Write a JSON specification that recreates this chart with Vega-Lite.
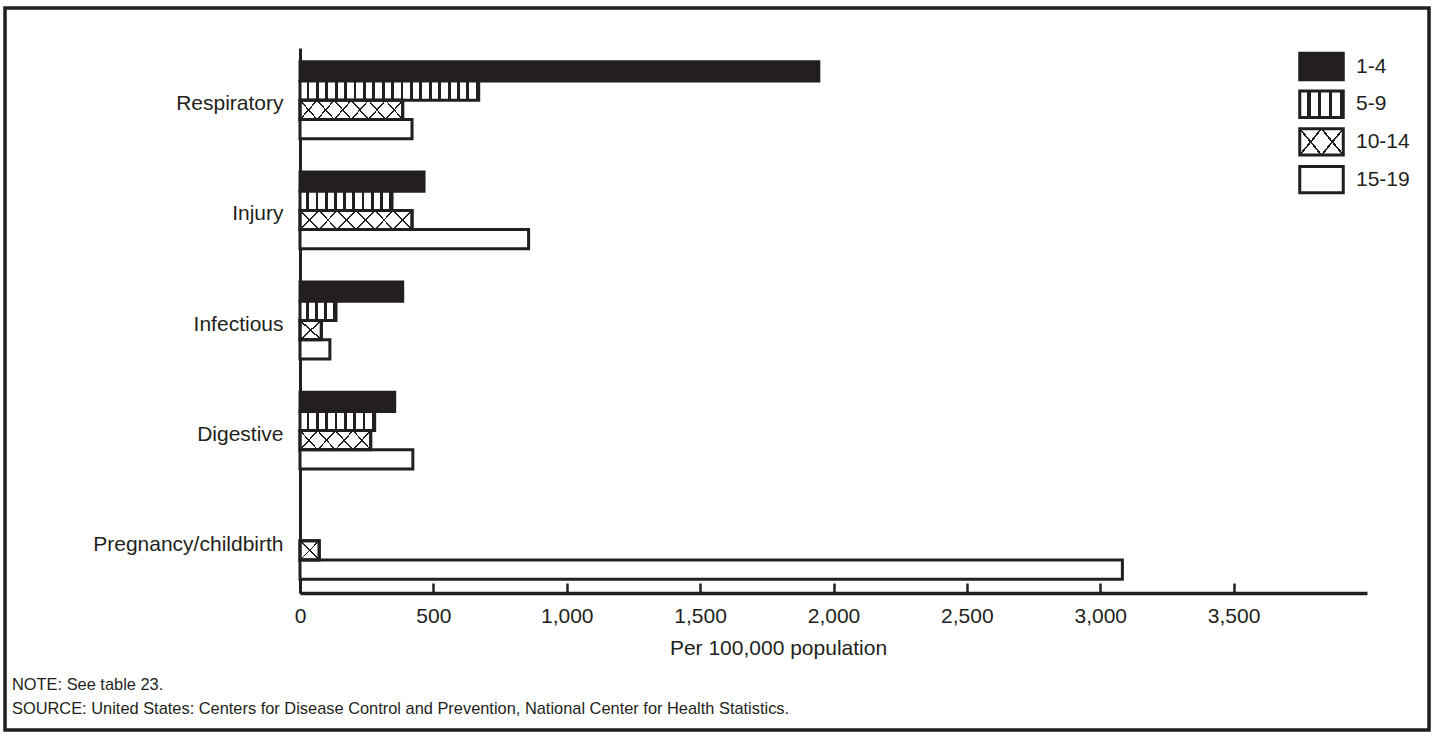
{
  "$schema": "https://vega.github.io/schema/vega-lite/v6.json",
  "width": 1424,
  "height": 722,
  "autosize": {"type": "none"},
  "padding": {"left": 5, "top": 8, "right": 6, "bottom": 6},
  "background": "white",
  "config": {
    "view": {"stroke": "#231f20", "strokeWidth": 3.5},
    "font": "Liberation Sans"
  },
  "title": {
    "text": ["NOTE: See table 23.", "SOURCE: United States: Centers for Disease Control and Prevention, National Center for Health Statistics."],
    "orient": "bottom",
    "anchor": "start",
    "frame": "group",
    "offset": -53,
    "dx": 7,
    "fontSize": 16.4,
    "fontWeight": "normal",
    "font": "Liberation Sans",
    "color": "#231f20",
    "lineHeight": 24
  },
  "data": {
    "values": [
      {"cause": "Respiratory", "age": "1-4", "value": 1945},
      {"cause": "Respiratory", "age": "5-9", "value": 670},
      {"cause": "Respiratory", "age": "10-14", "value": 385},
      {"cause": "Respiratory", "age": "15-19", "value": 420},
      {"cause": "Injury", "age": "1-4", "value": 465},
      {"cause": "Injury", "age": "5-9", "value": 345},
      {"cause": "Injury", "age": "10-14", "value": 420},
      {"cause": "Injury", "age": "15-19", "value": 857},
      {"cause": "Infectious", "age": "1-4", "value": 385},
      {"cause": "Infectious", "age": "5-9", "value": 135},
      {"cause": "Infectious", "age": "10-14", "value": 80},
      {"cause": "Infectious", "age": "15-19", "value": 112},
      {"cause": "Digestive", "age": "1-4", "value": 355},
      {"cause": "Digestive", "age": "5-9", "value": 280},
      {"cause": "Digestive", "age": "10-14", "value": 265},
      {"cause": "Digestive", "age": "15-19", "value": 423},
      {"cause": "Pregnancy/childbirth", "age": "10-14", "value": 72},
      {"cause": "Pregnancy/childbirth", "age": "15-19", "value": 3083}
    ]
  },
  "encoding": {
    "x": {
      "field": "value",
      "type": "quantitative",
      "scale": {"domain": [0, 4000], "range": [295, 1362], "nice": false, "zero": true},
      "axis": {
        "values": [0, 500, 1000, 1500, 2000, 2500, 3000, 3500],
        "format": ",d",
        "offset": -137,
        "grid": false,
        "domainColor": "#231f20",
        "domainWidth": 3.5,
        "tickColor": "#231f20",
        "tickWidth": 2.5,
        "tickSize": -10,
        "labelFont": "Liberation Sans",
        "labelFontSize": 21,
        "labelColor": "#231f20",
        "labelPadding": 22,
        "labelFlush": false,
        "labelOverlap": false,
        "title": "Per 100,000 population",
        "titleFont": "Liberation Sans",
        "titleFontSize": 21,
        "titleFontWeight": "normal",
        "titleColor": "#231f20",
        "titleX": 773,
        "titleY": 55,
        "titleBaseline": "middle",
        "titleAlign": "center"
      }
    },
    "y": {
      "field": "cause",
      "type": "nominal",
      "scale": {
        "domain": ["Respiratory", "Injury", "Infectious", "Digestive", "Pregnancy/childbirth"],
        "range": [40, 585],
        "paddingInner": 0.301,
        "paddingOuter": 0.125
      },
      "axis": {
        "offset": -295,
        "grid": false,
        "ticks": false,
        "domainColor": "#231f20",
        "domainWidth": 3,
        "labelFont": "Liberation Sans",
        "labelFontSize": 21,
        "labelColor": "#231f20",
        "labelPadding": 17,
        "labelOffset": 4,
        "labelLimit": 400,
        "title": null
      }
    },
    "yOffset": {
      "field": "age",
      "type": "nominal",
      "scale": {"domain": ["1-4", "5-9", "10-14", "15-19"], "paddingInner": 0, "paddingOuter": 0}
    }
  },
  "layer": [
    {
      "mark": {"type": "bar", "stroke": "#231f20", "strokeWidth": 3},
      "encoding": {
        "fill": {
          "field": "age",
          "type": "nominal",
          "scale": {
            "domain": ["1-4", "5-9", "10-14", "15-19"],
            "range": [
              "#231f20",
              {"expr": "({gradient: 'linear', x1: 0, y1: 0, x2: 1, y2: 0, stops: [{offset: 0, color: 'white'}, {offset: 0.175, color: 'white'}, {offset: 0.175, color: '#231f20'}, {offset: 0.25, color: '#231f20'}, {offset: 0.25, color: 'white'}, {offset: 0.425, color: 'white'}, {offset: 0.425, color: '#231f20'}, {offset: 0.5, color: '#231f20'}, {offset: 0.5, color: 'white'}, {offset: 0.675, color: 'white'}, {offset: 0.675, color: '#231f20'}, {offset: 0.75, color: '#231f20'}, {offset: 0.75, color: 'white'}, {offset: 0.925, color: 'white'}, {offset: 0.925, color: '#231f20'}, {offset: 1, color: '#231f20'}]})"},
              {"expr": "({gradient: 'linear', x1: 0, y1: 1, x2: 1.2, y2: 0.4, stops: [{offset: 0, color: 'white'}, {offset: 0.3167, color: 'white'}, {offset: 0.3167, color: '#231f20'}, {offset: 0.35, color: '#231f20'}, {offset: 0.35, color: 'white'}, {offset: 0.65, color: 'white'}, {offset: 0.65, color: '#231f20'}, {offset: 0.6833, color: '#231f20'}, {offset: 0.6833, color: 'white'}, {offset: 1, color: 'white'}]})"},
              "white"
            ]
          },
          "legend": {
            "orient": "none",
            "legendX": 1300,
            "legendY": 42,
            "title": null,
            "padding": 0,
            "symbolType": "M-1.45,-0.88H1.45V0.88H-1.45Z",
            "symbolSize": 900,
            "symbolStrokeWidth": 3,
            "symbolStrokeColor": "#231f20",
            "labelFont": "Liberation Sans",
            "labelFontSize": 21,
            "labelColor": "#231f20",
            "labelOffset": 18,
            "rowPadding": -1.3,
            "encode": {
              "symbols": {
                "update": {
                  "stroke": {"value": "#231f20"},
                  "strokeWidth": {"value": 3}
                }
              }
            }
          },
          "condition": [
            {"test": "datum.age === '5-9' && datum.cause === 'Respiratory'", "value": {"gradient": "linear", "x1": 0, "y1": 0, "x2": 1, "y2": 0, "stops": [
              {"offset": 0, "color": "white"},
              {"offset": 0.0368, "color": "white"}, {"offset": 0.0368, "color": "#231f20"}, {"offset": 0.0526, "color": "#231f20"}, {"offset": 0.0526, "color": "white"},
              {"offset": 0.0895, "color": "white"}, {"offset": 0.0895, "color": "#231f20"}, {"offset": 0.1053, "color": "#231f20"}, {"offset": 0.1053, "color": "white"},
              {"offset": 0.1421, "color": "white"}, {"offset": 0.1421, "color": "#231f20"}, {"offset": 0.1579, "color": "#231f20"}, {"offset": 0.1579, "color": "white"},
              {"offset": 0.1947, "color": "white"}, {"offset": 0.1947, "color": "#231f20"}, {"offset": 0.2105, "color": "#231f20"}, {"offset": 0.2105, "color": "white"},
              {"offset": 0.2474, "color": "white"}, {"offset": 0.2474, "color": "#231f20"}, {"offset": 0.2632, "color": "#231f20"}, {"offset": 0.2632, "color": "white"},
              {"offset": 0.3, "color": "white"}, {"offset": 0.3, "color": "#231f20"}, {"offset": 0.3158, "color": "#231f20"}, {"offset": 0.3158, "color": "white"},
              {"offset": 0.3526, "color": "white"}, {"offset": 0.3526, "color": "#231f20"}, {"offset": 0.3684, "color": "#231f20"}, {"offset": 0.3684, "color": "white"},
              {"offset": 0.4053, "color": "white"}, {"offset": 0.4053, "color": "#231f20"}, {"offset": 0.4211, "color": "#231f20"}, {"offset": 0.4211, "color": "white"},
              {"offset": 0.4579, "color": "white"}, {"offset": 0.4579, "color": "#231f20"}, {"offset": 0.4737, "color": "#231f20"}, {"offset": 0.4737, "color": "white"},
              {"offset": 0.5105, "color": "white"}, {"offset": 0.5105, "color": "#231f20"}, {"offset": 0.5263, "color": "#231f20"}, {"offset": 0.5263, "color": "white"},
              {"offset": 0.5632, "color": "white"}, {"offset": 0.5632, "color": "#231f20"}, {"offset": 0.5789, "color": "#231f20"}, {"offset": 0.5789, "color": "white"},
              {"offset": 0.6158, "color": "white"}, {"offset": 0.6158, "color": "#231f20"}, {"offset": 0.6316, "color": "#231f20"}, {"offset": 0.6316, "color": "white"},
              {"offset": 0.6684, "color": "white"}, {"offset": 0.6684, "color": "#231f20"}, {"offset": 0.6842, "color": "#231f20"}, {"offset": 0.6842, "color": "white"},
              {"offset": 0.7211, "color": "white"}, {"offset": 0.7211, "color": "#231f20"}, {"offset": 0.7368, "color": "#231f20"}, {"offset": 0.7368, "color": "white"},
              {"offset": 0.7737, "color": "white"}, {"offset": 0.7737, "color": "#231f20"}, {"offset": 0.7895, "color": "#231f20"}, {"offset": 0.7895, "color": "white"},
              {"offset": 0.8263, "color": "white"}, {"offset": 0.8263, "color": "#231f20"}, {"offset": 0.8421, "color": "#231f20"}, {"offset": 0.8421, "color": "white"},
              {"offset": 0.8789, "color": "white"}, {"offset": 0.8789, "color": "#231f20"}, {"offset": 0.8947, "color": "#231f20"}, {"offset": 0.8947, "color": "white"},
              {"offset": 0.9316, "color": "white"}, {"offset": 0.9316, "color": "#231f20"}, {"offset": 0.9474, "color": "#231f20"}, {"offset": 0.9474, "color": "white"},
              {"offset": 0.9842, "color": "white"}, {"offset": 0.9842, "color": "#231f20"}, {"offset": 1, "color": "#231f20"}
            ]}},
            {"test": "datum.age === '5-9' && datum.cause === 'Injury'", "value": {"gradient": "linear", "x1": 0, "y1": 0, "x2": 1, "y2": 0, "stops": [
              {"offset": 0, "color": "white"},
              {"offset": 0.07, "color": "white"}, {"offset": 0.07, "color": "#231f20"}, {"offset": 0.1, "color": "#231f20"}, {"offset": 0.1, "color": "white"},
              {"offset": 0.17, "color": "white"}, {"offset": 0.17, "color": "#231f20"}, {"offset": 0.2, "color": "#231f20"}, {"offset": 0.2, "color": "white"},
              {"offset": 0.27, "color": "white"}, {"offset": 0.27, "color": "#231f20"}, {"offset": 0.3, "color": "#231f20"}, {"offset": 0.3, "color": "white"},
              {"offset": 0.37, "color": "white"}, {"offset": 0.37, "color": "#231f20"}, {"offset": 0.4, "color": "#231f20"}, {"offset": 0.4, "color": "white"},
              {"offset": 0.47, "color": "white"}, {"offset": 0.47, "color": "#231f20"}, {"offset": 0.5, "color": "#231f20"}, {"offset": 0.5, "color": "white"},
              {"offset": 0.57, "color": "white"}, {"offset": 0.57, "color": "#231f20"}, {"offset": 0.6, "color": "#231f20"}, {"offset": 0.6, "color": "white"},
              {"offset": 0.67, "color": "white"}, {"offset": 0.67, "color": "#231f20"}, {"offset": 0.7, "color": "#231f20"}, {"offset": 0.7, "color": "white"},
              {"offset": 0.77, "color": "white"}, {"offset": 0.77, "color": "#231f20"}, {"offset": 0.8, "color": "#231f20"}, {"offset": 0.8, "color": "white"},
              {"offset": 0.87, "color": "white"}, {"offset": 0.87, "color": "#231f20"}, {"offset": 0.9, "color": "#231f20"}, {"offset": 0.9, "color": "white"},
              {"offset": 0.97, "color": "white"}, {"offset": 0.97, "color": "#231f20"}, {"offset": 1, "color": "#231f20"}
            ]}},
            {"test": "datum.age === '5-9' && datum.cause === 'Infectious'", "value": {"gradient": "linear", "x1": 0, "y1": 0, "x2": 1, "y2": 0, "stops": [
              {"offset": 0, "color": "white"},
              {"offset": 0.175, "color": "white"}, {"offset": 0.175, "color": "#231f20"}, {"offset": 0.25, "color": "#231f20"}, {"offset": 0.25, "color": "white"},
              {"offset": 0.425, "color": "white"}, {"offset": 0.425, "color": "#231f20"}, {"offset": 0.5, "color": "#231f20"}, {"offset": 0.5, "color": "white"},
              {"offset": 0.675, "color": "white"}, {"offset": 0.675, "color": "#231f20"}, {"offset": 0.75, "color": "#231f20"}, {"offset": 0.75, "color": "white"},
              {"offset": 0.925, "color": "white"}, {"offset": 0.925, "color": "#231f20"}, {"offset": 1, "color": "#231f20"}
            ]}},
            {"test": "datum.age === '5-9' && datum.cause === 'Digestive'", "value": {"gradient": "linear", "x1": 0, "y1": 0, "x2": 1, "y2": 0, "stops": [
              {"offset": 0, "color": "white"},
              {"offset": 0.0875, "color": "white"}, {"offset": 0.0875, "color": "#231f20"}, {"offset": 0.125, "color": "#231f20"}, {"offset": 0.125, "color": "white"},
              {"offset": 0.2125, "color": "white"}, {"offset": 0.2125, "color": "#231f20"}, {"offset": 0.25, "color": "#231f20"}, {"offset": 0.25, "color": "white"},
              {"offset": 0.3375, "color": "white"}, {"offset": 0.3375, "color": "#231f20"}, {"offset": 0.375, "color": "#231f20"}, {"offset": 0.375, "color": "white"},
              {"offset": 0.4625, "color": "white"}, {"offset": 0.4625, "color": "#231f20"}, {"offset": 0.5, "color": "#231f20"}, {"offset": 0.5, "color": "white"},
              {"offset": 0.5875, "color": "white"}, {"offset": 0.5875, "color": "#231f20"}, {"offset": 0.625, "color": "#231f20"}, {"offset": 0.625, "color": "white"},
              {"offset": 0.7125, "color": "white"}, {"offset": 0.7125, "color": "#231f20"}, {"offset": 0.75, "color": "#231f20"}, {"offset": 0.75, "color": "white"},
              {"offset": 0.8375, "color": "white"}, {"offset": 0.8375, "color": "#231f20"}, {"offset": 0.875, "color": "#231f20"}, {"offset": 0.875, "color": "white"},
              {"offset": 0.9625, "color": "white"}, {"offset": 0.9625, "color": "#231f20"}, {"offset": 1, "color": "#231f20"}
            ]}},
            {"test": "datum.age === '10-14' && (datum.cause === 'Respiratory' || datum.cause === 'Injury')", "value": {"gradient": "linear", "x1": 0, "y1": 1, "x2": 1.1351, "y2": 0.8108, "stops": [
              {"offset": 0, "color": "white"},
              {"offset": 0.1357, "color": "white"}, {"offset": 0.1357, "color": "#231f20"}, {"offset": 0.15, "color": "#231f20"}, {"offset": 0.15, "color": "white"},
              {"offset": 0.2786, "color": "white"}, {"offset": 0.2786, "color": "#231f20"}, {"offset": 0.2929, "color": "#231f20"}, {"offset": 0.2929, "color": "white"},
              {"offset": 0.4214, "color": "white"}, {"offset": 0.4214, "color": "#231f20"}, {"offset": 0.4357, "color": "#231f20"}, {"offset": 0.4357, "color": "white"},
              {"offset": 0.5643, "color": "white"}, {"offset": 0.5643, "color": "#231f20"}, {"offset": 0.5786, "color": "#231f20"}, {"offset": 0.5786, "color": "white"},
              {"offset": 0.7071, "color": "white"}, {"offset": 0.7071, "color": "#231f20"}, {"offset": 0.7214, "color": "#231f20"}, {"offset": 0.7214, "color": "white"},
              {"offset": 0.85, "color": "white"}, {"offset": 0.85, "color": "#231f20"}, {"offset": 0.8643, "color": "#231f20"}, {"offset": 0.8643, "color": "white"},
              {"offset": 1, "color": "white"}
            ]}},
            {"test": "datum.age === '10-14' && datum.cause === 'Digestive'", "value": {"gradient": "linear", "x1": 0, "y1": 1, "x2": 1.1765, "y2": 0.7059, "stops": [
              {"offset": 0, "color": "white"},
              {"offset": 0.19, "color": "white"}, {"offset": 0.19, "color": "#231f20"}, {"offset": 0.21, "color": "#231f20"}, {"offset": 0.21, "color": "white"},
              {"offset": 0.39, "color": "white"}, {"offset": 0.39, "color": "#231f20"}, {"offset": 0.41, "color": "#231f20"}, {"offset": 0.41, "color": "white"},
              {"offset": 0.59, "color": "white"}, {"offset": 0.59, "color": "#231f20"}, {"offset": 0.61, "color": "#231f20"}, {"offset": 0.61, "color": "white"},
              {"offset": 0.79, "color": "white"}, {"offset": 0.79, "color": "#231f20"}, {"offset": 0.81, "color": "#231f20"}, {"offset": 0.81, "color": "white"},
              {"offset": 1, "color": "white"}
            ]}},
            {"test": "datum.age === '10-14' && (datum.cause === 'Infectious' || datum.cause === 'Pregnancy/childbirth')", "value": {"gradient": "linear", "x1": 0, "y1": 1, "x2": 1, "y2": 0, "stops": [
              {"offset": 0, "color": "white"},
              {"offset": 0.475, "color": "white"}, {"offset": 0.475, "color": "#231f20"}, {"offset": 0.525, "color": "#231f20"}, {"offset": 0.525, "color": "white"},
              {"offset": 1, "color": "white"}
            ]}}
          ]
        }
      }
    },
    {
      "transform": [{"filter": "datum.age === '10-14'"}],
      "mark": {"type": "bar", "stroke": "#231f20", "strokeWidth": 3},
      "encoding": {
        "fill": {
          "field": "age",
          "type": "nominal",
          "scale": {
            "domain": ["1-4", "5-9", "10-14", "15-19"],
            "range": [
              "rgba(255,255,255,0)",
              "rgba(255,255,255,0)",
              {"expr": "({gradient: 'linear', x1: 0, y1: 0, x2: 1.2, y2: 0.6, stops: [{offset: 0, color: 'rgba(255,255,255,0)'}, {offset: 0.3167, color: 'rgba(255,255,255,0)'}, {offset: 0.3167, color: '#231f20'}, {offset: 0.35, color: '#231f20'}, {offset: 0.35, color: 'rgba(255,255,255,0)'}, {offset: 0.65, color: 'rgba(255,255,255,0)'}, {offset: 0.65, color: '#231f20'}, {offset: 0.6833, color: '#231f20'}, {offset: 0.6833, color: 'rgba(255,255,255,0)'}, {offset: 1, color: 'rgba(255,255,255,0)'}]})"},
              "rgba(255,255,255,0)"
            ]
          },
          "legend": {
            "orient": "none",
            "legendX": 1300,
            "legendY": 42,
            "title": null,
            "padding": 0,
            "symbolType": "M-1.45,-0.88H1.45V0.88H-1.45Z",
            "symbolSize": 900,
            "symbolStrokeWidth": 3,
            "symbolStrokeColor": "rgba(255,255,255,0)",
            "labelFont": "Liberation Sans",
            "labelFontSize": 21,
            "labelColor": "rgba(255,255,255,0)",
            "labelOffset": 18,
            "rowPadding": -1.3,
            "encode": {
              "symbols": {
                "update": {
                  "stroke": {"value": "rgba(255,255,255,0)"},
                  "strokeWidth": {"value": 3}
                }
              }
            }
          },
          "condition": [
            {"test": "datum.cause === 'Respiratory' || datum.cause === 'Injury'", "value": {"gradient": "linear", "x1": 0, "y1": 0, "x2": 1.1351, "y2": 0.1892, "stops": [
              {"offset": 0, "color": "rgba(255,255,255,0)"},
              {"offset": 0.1357, "color": "rgba(255,255,255,0)"}, {"offset": 0.1357, "color": "#231f20"}, {"offset": 0.15, "color": "#231f20"}, {"offset": 0.15, "color": "rgba(255,255,255,0)"},
              {"offset": 0.2786, "color": "rgba(255,255,255,0)"}, {"offset": 0.2786, "color": "#231f20"}, {"offset": 0.2929, "color": "#231f20"}, {"offset": 0.2929, "color": "rgba(255,255,255,0)"},
              {"offset": 0.4214, "color": "rgba(255,255,255,0)"}, {"offset": 0.4214, "color": "#231f20"}, {"offset": 0.4357, "color": "#231f20"}, {"offset": 0.4357, "color": "rgba(255,255,255,0)"},
              {"offset": 0.5643, "color": "rgba(255,255,255,0)"}, {"offset": 0.5643, "color": "#231f20"}, {"offset": 0.5786, "color": "#231f20"}, {"offset": 0.5786, "color": "rgba(255,255,255,0)"},
              {"offset": 0.7071, "color": "rgba(255,255,255,0)"}, {"offset": 0.7071, "color": "#231f20"}, {"offset": 0.7214, "color": "#231f20"}, {"offset": 0.7214, "color": "rgba(255,255,255,0)"},
              {"offset": 0.85, "color": "rgba(255,255,255,0)"}, {"offset": 0.85, "color": "#231f20"}, {"offset": 0.8643, "color": "#231f20"}, {"offset": 0.8643, "color": "rgba(255,255,255,0)"},
              {"offset": 1, "color": "rgba(255,255,255,0)"}
            ]}},
            {"test": "datum.cause === 'Digestive'", "value": {"gradient": "linear", "x1": 0, "y1": 0, "x2": 1.1765, "y2": 0.2941, "stops": [
              {"offset": 0, "color": "rgba(255,255,255,0)"},
              {"offset": 0.19, "color": "rgba(255,255,255,0)"}, {"offset": 0.19, "color": "#231f20"}, {"offset": 0.21, "color": "#231f20"}, {"offset": 0.21, "color": "rgba(255,255,255,0)"},
              {"offset": 0.39, "color": "rgba(255,255,255,0)"}, {"offset": 0.39, "color": "#231f20"}, {"offset": 0.41, "color": "#231f20"}, {"offset": 0.41, "color": "rgba(255,255,255,0)"},
              {"offset": 0.59, "color": "rgba(255,255,255,0)"}, {"offset": 0.59, "color": "#231f20"}, {"offset": 0.61, "color": "#231f20"}, {"offset": 0.61, "color": "rgba(255,255,255,0)"},
              {"offset": 0.79, "color": "rgba(255,255,255,0)"}, {"offset": 0.79, "color": "#231f20"}, {"offset": 0.81, "color": "#231f20"}, {"offset": 0.81, "color": "rgba(255,255,255,0)"},
              {"offset": 1, "color": "rgba(255,255,255,0)"}
            ]}},
            {"test": "datum.cause === 'Infectious' || datum.cause === 'Pregnancy/childbirth'", "value": {"gradient": "linear", "x1": 0, "y1": 0, "x2": 1, "y2": 1, "stops": [
              {"offset": 0, "color": "rgba(255,255,255,0)"},
              {"offset": 0.475, "color": "rgba(255,255,255,0)"}, {"offset": 0.475, "color": "#231f20"}, {"offset": 0.525, "color": "#231f20"}, {"offset": 0.525, "color": "rgba(255,255,255,0)"},
              {"offset": 1, "color": "rgba(255,255,255,0)"}
            ]}}
          ]
        }
      }
    }
  ],
  "resolve": {"scale": {"fill": "independent"}, "legend": {"fill": "independent"}}
}
